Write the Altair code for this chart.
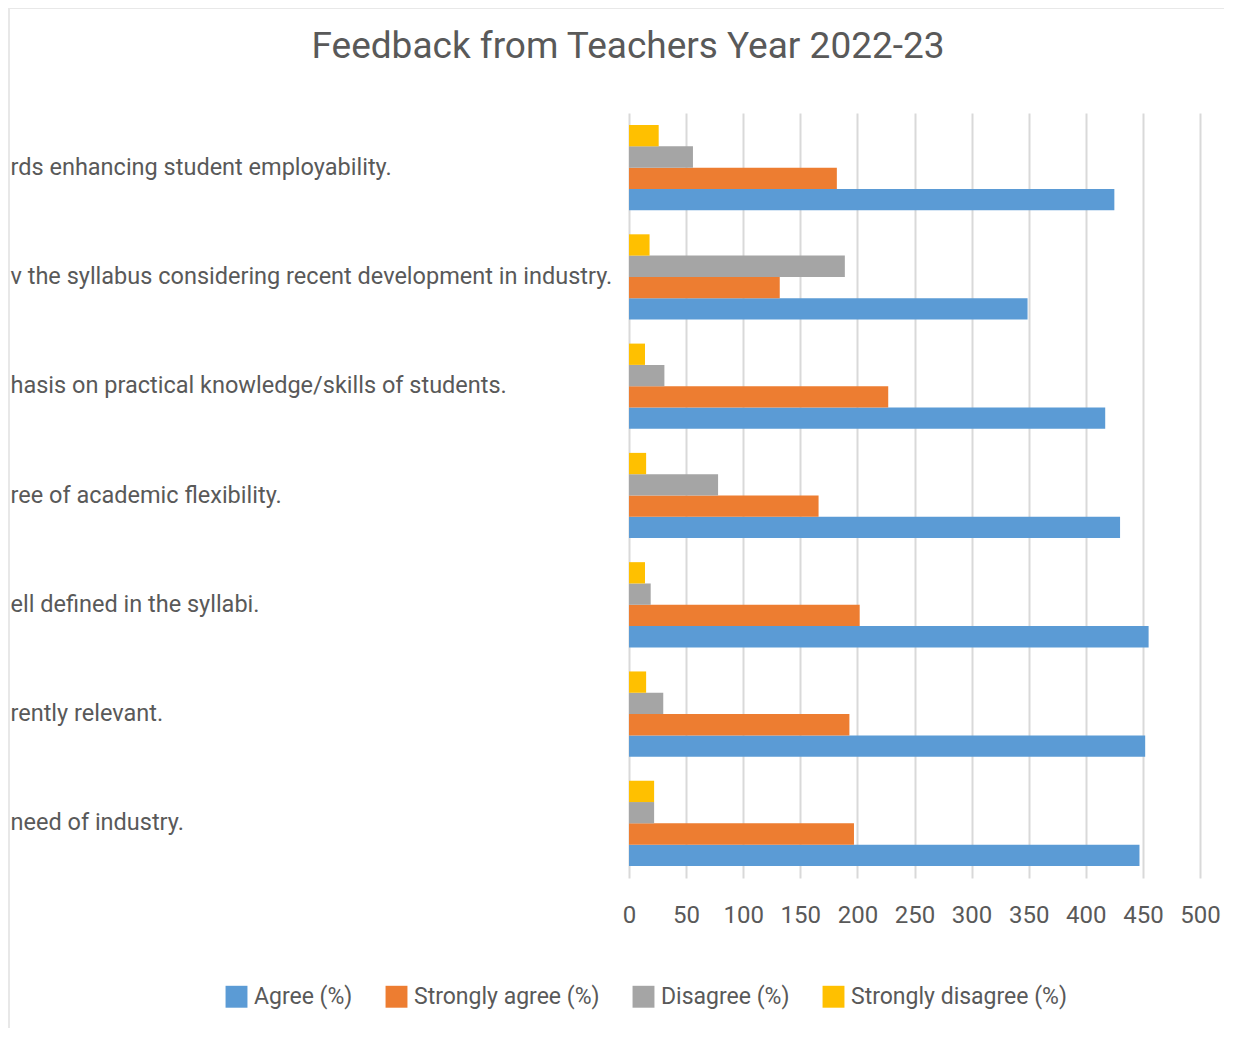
import altair as alt
import pandas as pd

categories = [
    "rds enhancing student employability.",
    "v the syllabus considering recent development in industry.",
    "hasis on practical knowledge/skills of students.",
    "ree of academic flexibility.",
    "ell defined in the syllabi.",
    "rently relevant.",
    "need of industry.",
]
series_names = ["Agree (%)", "Strongly agree (%)", "Disagree (%)", "Strongly disagree (%)"]
agree = [425, 349, 417, 430, 455, 452, 447]
strongly_agree = [182, 132, 227, 166, 202, 193, 197]
disagree = [56, 189, 31, 78, 19, 30, 22]
strongly_disagree = [26, 18, 14, 15, 14, 15, 22]
x_ticks = [0, 50, 100, 150, 200, 250, 300, 350, 400, 450, 500]
colors = ["#5B9BD5", "#ED7D31", "#A5A5A5", "#FFC000"]

series_values = [agree, strongly_agree, disagree, strongly_disagree]
rows = []
for name, vals in zip(series_names, series_values):
    for cat, v in zip(categories, vals):
        rows.append({"category": cat, "series": name, "value": v})
df = pd.DataFrame(rows)

FONT = "Roboto, sans-serif"
TXT = "#595959"

bars = alt.Chart(df).mark_bar().encode(
    y=alt.Y(
        "category:N",
        sort=categories,
        scale=alt.Scale(paddingInner=0.22, paddingOuter=0.11),
        axis=alt.Axis(
            title=None, labelAlign="left", labelPadding=619, labelLimit=900,
            labelFont=FONT, labelFontSize=23.5, labelColor=TXT,
            ticks=False, domain=False, grid=False,
        ),
    ),
    yOffset=alt.YOffset(
        "series:N",
        sort=list(reversed(series_names)),
    ),
    x=alt.X(
        "value:Q",
        scale=alt.Scale(domain=[0, 500]),
        axis=alt.Axis(
            values=x_ticks, title=None, grid=True, gridColor="#d9d9d9", gridWidth=2,
            domain=False, ticks=False, labelPadding=25, labelFlush=False,
            labelFont=FONT, labelFontSize=24, labelColor=TXT,
        ),
    ),
    color=alt.Color(
        "series:N",
        scale=alt.Scale(domain=series_names, range=colors),
        legend=alt.Legend(
            orient="none", legendX=-404, legendY=872, direction="horizontal",
            columns=4, title=None, symbolType="square", symbolSize=480,
            symbolStrokeWidth=0, symbolOpacity=1, labelFont=FONT, labelFontSize=23,
            labelColor=TXT, columnPadding=32, labelOffset=6, labelLimit=400,
        ),
    ),
)

frame_df = pd.DataFrame({"k": [0]})
top_border = alt.Chart(frame_df).mark_rule(color="#e8e8e8", strokeWidth=2).encode(
    x=alt.value(-620), x2=alt.value(616), y=alt.value(-105)
)
left_border = alt.Chart(frame_df).mark_rule(color="#e8e8e8", strokeWidth=2).encode(
    x=alt.value(-620), y=alt.value(-105), y2=alt.value(940)
)

chart = alt.layer(bars, top_border, left_border).properties(
    width=571,
    height=765,
    autosize=alt.AutoSizeParams(type="none"),
    padding={"left": 621, "top": 105, "right": 24, "bottom": 150},
    title=alt.Title(
        "Feedback from Teachers Year 2022-23",
        font=FONT, fontSize=37, fontWeight="normal", color=TXT,
        anchor="middle", frame="bounds", offset=-59, dx=1,
    ),
).configure(background="white").configure_view(strokeWidth=0)

chart.save("out.html", embed_options={"renderer": "svg", "actions": False})
